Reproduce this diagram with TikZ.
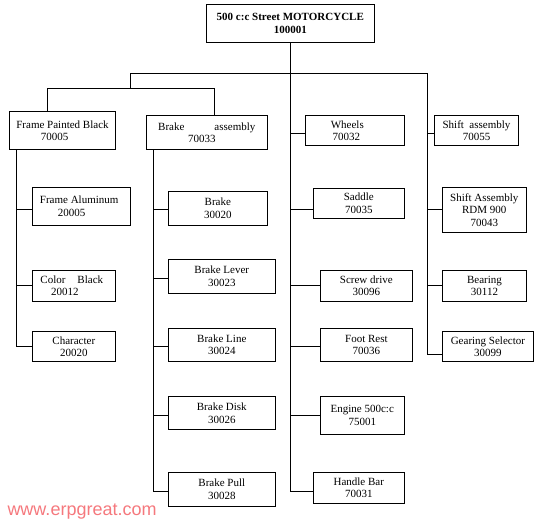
\documentclass[tikz,border=0pt]{standalone}
\usepackage{fontspec}
\setmainfont{Liberation Serif}
\newfontfamily\wmfont{Liberation Sans}
\usepackage{tikz}
\usetikzlibrary{positioning,calc}
\definecolor{wmred}{RGB}{245,120,125}

\begin{document}
\begin{tikzpicture}[x=1pt, y=-1pt,
  part/.style={draw, line width=1pt, align=center, inner sep=0pt,
               minimum width=#1, font=\fontsize{11}{12.5}\selectfont},
  link/.style={line width=1pt}]
  \useasboundingbox (0,0) rectangle (545,524);
  % top item and first level
  \node[part=168pt, minimum height=38pt, font=\fontsize{11}{13}\selectfont\bfseries] (moto) at (290.3,23.3) {500 c:c Street MOTORCYCLE\\100001};
  \node[part=106pt, minimum height=37.6pt] (frame) at (62.5,130.5) {Frame Painted Black\\70005\hspace*{16pt}};
  \node[part=121pt, minimum height=33.6pt] (brakeasm) at (206.8,132.5) {Brake\hspace{30pt}assembly\\70033\hspace*{10pt}};
  \node[part=99pt, minimum height=30pt] (wheels) at (354.8,130.7) {Wheels\hspace*{15pt}\\70032\hspace*{17pt}};
  \node[part=84.4pt, minimum height=30pt] (shiftasm) at (476.5,130.7) {Shift\ \ assembly\\70055};
  % frame parts
  \node[part=97.7pt, minimum height=38pt] (alum) at (81.2,206.3) {Frame Aluminum\hspace*{4pt}\\20005\hspace*{19pt}};
  \node[part=83pt, minimum height=31pt] (color) at (73.8,285.8) {Color\hspace{12pt}Black\hspace*{4pt}\\20012\hspace*{18pt}};
  \node[part=83pt, minimum height=29.6pt] (character) at (73.8,346.5) {Character\\20020};
  % brake parts
  \node[part=99pt, minimum height=34pt] (brake) at (217.8,208.3) {Brake\\30020};
  \node[part=107pt, minimum height=34pt] (lever) at (221.8,276.3) {Brake Lever\\30023};
  \node[part=107pt, minimum height=33pt] (bline) at (221.8,344.8) {Brake Line\\30024};
  \node[part=107pt, minimum height=33.3pt] (disk) at (221.8,413.3) {Brake Disk\\30026};
  \node[part=107pt, minimum height=33.7pt] (pull) at (221.8,489.2) {Brake Pull\\30028};
  % wheel column
  \node[part=91pt, minimum height=30pt] (saddle) at (358.8,203.3) {Saddle\\70035};
  \node[part=92pt, minimum height=31pt] (screw) at (366.3,285.8) {Screw drive\\30096};
  \node[part=92pt, minimum height=33pt] (footrest) at (366.4,344.8) {Foot Rest\\70036};
  \node[part=84pt, minimum height=37.6pt] (engine) at (362.3,415.5) {Engine 500c:c\\75001};
  \node[part=91pt, minimum height=31pt] (handle) at (358.8,487.8) {Handle Bar\\70031};
  % shift parts
  \node[part=84pt, minimum height=45pt] (rdm) at (484.3,209.8) {Shift Assembly\\RDM 900\\70043};
  \node[part=84.4pt, minimum height=31pt] (bearing) at (484.5,285.8) {Bearing\\30112};
  \node[part=91.2pt, minimum height=29.6pt] (gearing) at (487.9,346.5) {Gearing Selector\\30099};

  % tree lines
  \coordinate (lsplit) at (130.3,73.3);
  \coordinate (rsplit) at (427.3,73.3);
  \coordinate (fsplit) at (lsplit |- 0,88.3);
  \draw[link] (moto.south) -- (moto.south |- 0,491) -- (handle.west |- 0,491);
  \draw[link] (lsplit) -- (rsplit);
  \draw[link] (lsplit) -- (fsplit);
  \draw[link] (frame.north -| 47.3,0) |- (fsplit) -| (brakeasm.north -| 214.3,0);
  \draw[link] (rsplit) -- (rsplit |- 0,354) -- (gearing.west |- 0,354);
  \foreach \n/\y in {wheels/133.3, saddle/209.3, screw/285.3, footrest/346, engine/415.7}
    \draw[link] (moto.south |- 0,\y) -- (\n.west |- 0,\y);
  \foreach \n/\y in {shiftasm/133.3, rdm/209.3, bearing/285.3}
    \draw[link] (rsplit |- 0,\y) -- (\n.west |- 0,\y);
  \coordinate (fspine) at ([xshift=7pt]frame.south west);
  \draw[link] (fspine) |- (character.west |- 0,346);
  \foreach \n/\y in {alum/209.3, color/285.3}
    \draw[link] (fspine |- 0,\y) -- (\n.west |- 0,\y);
  \coordinate (bspine) at ([xshift=7.4pt]brakeasm.south west);
  \draw[link] (bspine) |- (pull.west |- 0,491);
  \foreach \n/\y in {brake/209.3, lever/278, bline/346, disk/415.7}
    \draw[link] (bspine |- 0,\y) -- (\n.west |- 0,\y);

  \node[font=\wmfont\fontsize{18}{20}\selectfont, text=wmred, anchor=base west, inner sep=0pt] (site) at (7.3,515.7) {www.erpgreat.com};
\end{tikzpicture}
\end{document}
